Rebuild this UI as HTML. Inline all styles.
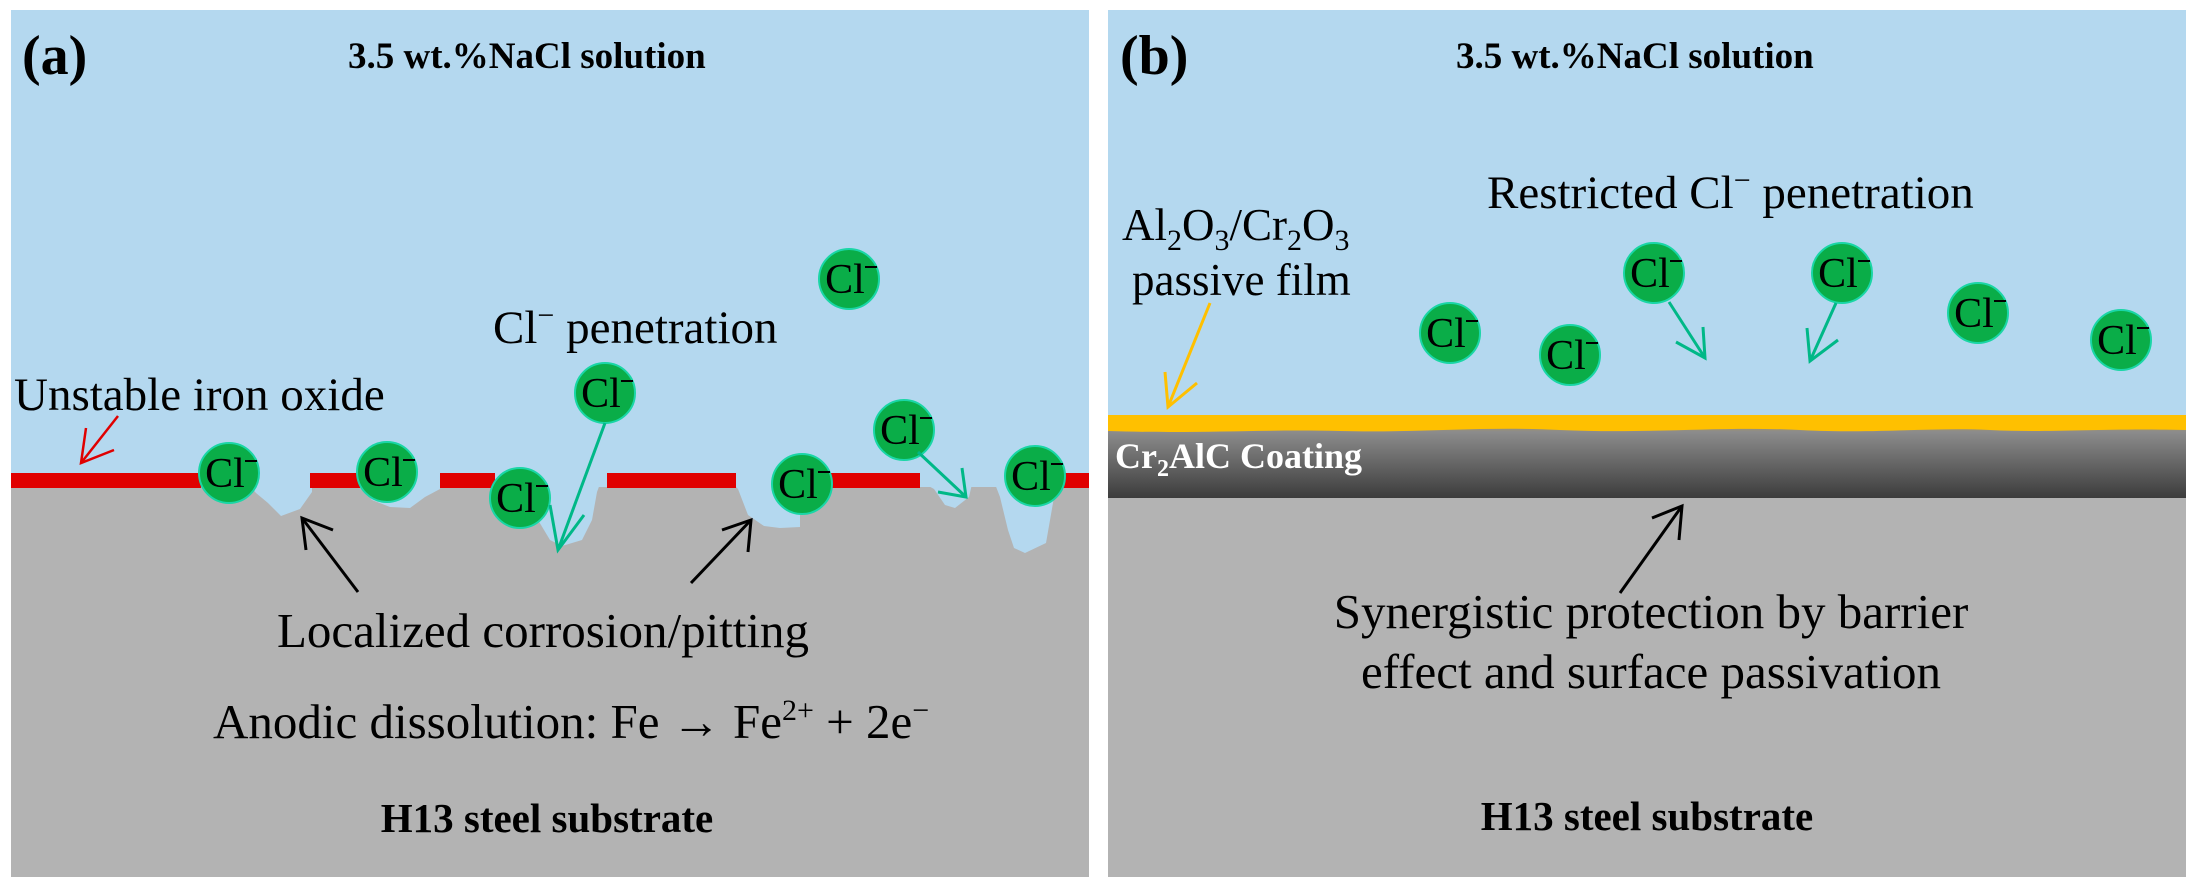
<!DOCTYPE html>
<html><head><meta charset="utf-8"><style>html,body{margin:0;padding:0;background:#fff}svg{display:block}svg text,svg tspan{font-family:"Liberation Serif","Times New Roman","Noto Serif CJK SC",serif}</style></head>
<body>
<svg width="2197" height="888" viewBox="0 0 2197 888" xmlns="http://www.w3.org/2000/svg">
<defs>
<linearGradient id="coat" x1="0" y1="0" x2="0" y2="1">
<stop offset="0" stop-color="#c9a030"/><stop offset="0.15" stop-color="#8c8c8c"/><stop offset="1" stop-color="#3c3c3c"/>
</linearGradient>
<g id="cl">
<circle r="30" fill="#0aad48" stroke="#1ad6a6" stroke-width="2"/>
<text x="-4" y="14" font-size="42" text-anchor="middle" fill="#000" font-family="Liberation Serif, Times New Roman, Noto Serif CJK SC, serif">Cl</text>
<line x1="16" y1="-12" x2="28" y2="-12" stroke="#000" stroke-width="2"/>
</g>
</defs>
<rect width="2197" height="888" fill="#fff"/>
<rect x="11" y="10" width="1078" height="867" fill="#b4d8ef"/>
<rect x="11" y="487" width="1078" height="390" fill="#b3b3b3"/>
<g fill="#b4d8ef">
<path d="M248,484 L256,493 L268,503 L281,516 L300,509 L312,492 L312,484 Z"/>
<path d="M360,484 L372,500 L390,507 L410,508 L425,497 L440,489 L440,484 Z"/>
<path d="M534,484 L538,520 L550,540 L562,546 L582,540 L592,520 L597,492 L600,484 Z"/>
<path d="M733,484 L738,489 L748,515 L764,526 L780,528 L800,527 L800,484 Z"/>
<path d="M925,484 L934,489 L945,505 L955,508 L969,497 L972,484 Z"/>
<path d="M995,484 L1000,497 L1008,530 L1014,548 L1025,553 L1046,543 L1053,503 L1055,484 Z"/>
</g>
<g fill="#e00000">
<rect x="11" y="473" width="190" height="15"/>
<rect x="310" y="473" width="50" height="15"/>
<rect x="440" y="473" width="55" height="15"/>
<rect x="607" y="473" width="129" height="15"/>
<rect x="830" y="473" width="90" height="15"/>
<rect x="1060" y="473" width="29" height="15"/>
</g>
<use href="#cl" x="229" y="473"/>
<use href="#cl" x="387" y="472"/>
<use href="#cl" x="520" y="498"/>
<use href="#cl" x="802" y="484"/>
<use href="#cl" x="904" y="430"/>
<use href="#cl" x="1035" y="476"/>
<use href="#cl" x="605" y="393"/>
<use href="#cl" x="849" y="279"/>
<g stroke="#00b887" stroke-width="3" fill="none">
<line x1="605" y1="423" x2="558" y2="550"/><polyline points="550,505 558,550 584,515"/>
<line x1="918" y1="452" x2="966" y2="497"/><polyline points="938,492 966,497 962,468"/>
</g>
<g stroke="#e00000" stroke-width="2.5" fill="none">
<line x1="118" y1="416" x2="81" y2="463"/><polyline points="86,428 81,463 114,450"/>
</g>
<g stroke="#000" stroke-width="3" fill="none">
<line x1="358" y1="592" x2="302" y2="518"/><polyline points="306,550 302,518 333,530"/>
<line x1="691" y1="583" x2="751" y2="520"/><polyline points="722,530 751,520 748,552"/>
</g>
<g font-family="Liberation Serif, Times New Roman, Noto Serif CJK SC, serif">
<text x="22" y="74" font-size="56" font-weight="bold">(a)</text>
<text x="348" y="68" font-size="37" font-weight="bold">3.5 wt.%NaCl solution</text>
<text x="14" y="410" font-size="47">Unstable iron oxide</text>
<text x="493" y="343" font-size="47">Cl<tspan font-size="30" dy="-18">−</tspan><tspan dy="18"> penetration</tspan></text>
<text x="277" y="647" font-size="49">Localized corrosion/pitting</text>
<text x="213" y="738" font-size="49">Anodic dissolution: Fe → Fe<tspan font-size="30" dy="-18">2+</tspan><tspan dy="18"> + 2e</tspan><tspan font-size="30" dy="-18">−</tspan></text>
<text x="547" y="832" font-size="41" font-weight="bold" text-anchor="middle">H13 steel substrate</text>
</g>

<rect x="1108" y="10" width="1078" height="867" fill="#b4d8ef"/>
<rect x="1108" y="498" width="1078" height="379" fill="#b3b3b3"/>
<rect x="1108" y="420" width="1078" height="78" fill="url(#coat)"/>
<path d="M1108,415 L2186,415 L2186,430 C2100,428 2050,433 1990,430 C1930,427 1880,434 1800,430 C1720,426 1650,434 1560,430 C1480,426 1420,433 1340,431 C1260,429 1200,434 1108,431 Z" fill="#ffc000"/>
<use href="#cl" x="1450" y="333"/>
<use href="#cl" x="1570" y="355"/>
<use href="#cl" x="1654" y="273"/>
<use href="#cl" x="1842" y="273"/>
<use href="#cl" x="1978" y="313"/>
<use href="#cl" x="2121" y="340"/>
<g stroke="#00b887" stroke-width="3" fill="none">
<line x1="1669" y1="302" x2="1705" y2="358"/><polyline points="1676,342 1705,358 1703,327"/>
<line x1="1836" y1="303" x2="1810" y2="361"/><polyline points="1807,328 1810,361 1838,340"/>
</g>
<g stroke="#ffc000" stroke-width="3" fill="none">
<line x1="1210" y1="303" x2="1168" y2="407"/><polyline points="1165,372 1168,407 1197,383"/>
</g>
<g stroke="#000" stroke-width="3" fill="none">
<line x1="1620" y1="593" x2="1682" y2="506"/><polyline points="1652,518 1682,506 1679,540"/>
</g>
<g font-family="Liberation Serif, Times New Roman, Noto Serif CJK SC, serif">
<text x="1115" y="468" font-size="36" font-weight="bold" fill="#fff">Cr<tspan font-size="24" dy="8">2</tspan><tspan dy="-8">AlC Coating</tspan></text>
<text x="1120" y="74" font-size="56" font-weight="bold">(b)</text>
<text x="1456" y="68" font-size="37" font-weight="bold">3.5 wt.%NaCl solution</text>
<text x="1122" y="240" font-size="45">Al<tspan font-size="30" dy="10">2</tspan><tspan dy="-10">O</tspan><tspan font-size="30" dy="10">3</tspan><tspan dy="-10">/Cr</tspan><tspan font-size="30" dy="10">2</tspan><tspan dy="-10">O</tspan><tspan font-size="30" dy="10">3</tspan></text>
<text x="1132" y="295" font-size="45">passive film</text>
<text x="1487" y="208" font-size="47">Restricted Cl<tspan font-size="30" dy="-18">−</tspan><tspan dy="18"> penetration</tspan></text>
<text x="1651" y="628" font-size="49" text-anchor="middle">Synergistic protection by barrier</text>
<text x="1651" y="688" font-size="49" text-anchor="middle">effect and surface passivation</text>
<text x="1647" y="830" font-size="41" font-weight="bold" text-anchor="middle">H13 steel substrate</text>
</g>
</svg>
</body></html>
